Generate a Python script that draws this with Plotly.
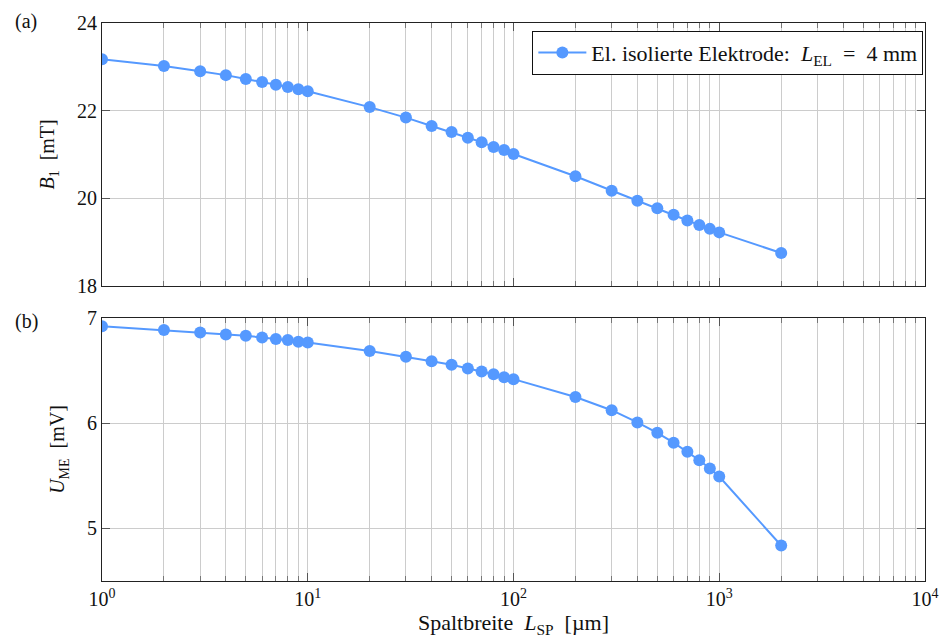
import plotly.graph_objects as go
from plotly.subplots import make_subplots

# ---- data ----
gap_um = [1, 2, 3, 4, 5, 6, 7, 8, 9, 10,
          20, 30, 40, 50, 60, 70, 80, 90, 100,
          200, 300, 400, 500, 600, 700, 800, 900, 1000, 2000]
b1_mT = [23.17, 23.02, 22.90, 22.81, 22.72, 22.655, 22.59, 22.54, 22.49, 22.44,
         22.08, 21.84, 21.65, 21.51, 21.38, 21.28, 21.17, 21.10, 21.01,
         20.50, 20.17, 19.94, 19.77, 19.62, 19.49, 19.39, 19.30, 19.22, 18.75]
u_me_mV = [6.92, 6.884, 6.861, 6.842, 6.83, 6.814, 6.80, 6.79, 6.774, 6.767,
           6.686, 6.632, 6.588, 6.554, 6.52, 6.49, 6.465, 6.437, 6.418,
           6.248, 6.123, 6.007, 5.908, 5.814, 5.729, 5.648, 5.569, 5.493, 4.837]
x_tickvals = [1, 10, 100, 1000, 10000]
x_ticktext = ["10<sup>0</sup>", "10<sup>1</sup>", "10<sup>2</sup>", "10<sup>3</sup>", "10<sup>4</sup>"]
series_name = "El. isolierte Elektrode:  <i>L</i><sub>EL</sub>  =  4 mm"

FONT = "Liberation Serif"
FS = 20
COLOR = "rgb(85,153,255)"
GRID = "#cccccc"
TXT = "#111"

minor_vals = [m * 10 ** d for d in range(4) for m in range(2, 10)]

fig = make_subplots(rows=2, cols=1, shared_xaxes=False)

fig.add_trace(go.Scatter(x=gap_um, y=b1_mT, mode="lines+markers", name=series_name,
                         line=dict(color=COLOR, width=2),
                         marker=dict(color=COLOR, size=12), showlegend=True),
              row=1, col=1)
fig.add_trace(go.Scatter(x=gap_um, y=u_me_mV, mode="lines+markers", name=series_name,
                         line=dict(color=COLOR, width=2),
                         marker=dict(color=COLOR, size=12), showlegend=False),
              row=2, col=1)

common_x = dict(type="log", range=[0, 4], tickmode="array", tickvals=x_tickvals,
                showline=True, linecolor="#222", linewidth=1.2, mirror="ticks",
                ticks="inside", ticklen=8, tickcolor="#555", tickwidth=1,
                showgrid=True, gridcolor=GRID, gridwidth=1, zeroline=False,
                minor=dict(tickmode="array", tickvals=minor_vals, ticks="inside",
                           ticklen=5, tickcolor="#777", showgrid=True,
                           gridcolor=GRID, gridwidth=1),
                tickfont=dict(family=FONT, size=FS, color=TXT))

fig.update_xaxes(**common_x, row=1, col=1, showticklabels=False, domain=[0, 1])
fig.update_xaxes(**common_x, row=2, col=1, ticktext=x_ticktext, domain=[0, 1],
                 title=dict(text="Spaltbreite  <i>L</i><sub>SP</sub>  [µm]",
                            font=dict(family=FONT, size=22, color=TXT), standoff=4))

common_y = dict(showline=True, linecolor="#222", linewidth=1.2, mirror="ticks",
                ticks="inside", ticklen=8, tickcolor="#555",
                showgrid=True, gridcolor=GRID, zeroline=False,
                tickfont=dict(family=FONT, size=FS, color=TXT))
fig.update_yaxes(**common_y, row=1, col=1, range=[18, 24], dtick=2, tick0=18,
                 domain=[0.529, 1.0],
                 title=dict(text="<i>B</i><sub>1</sub>  [mT]",
                            font=dict(family=FONT, size=FS, color=TXT), standoff=16))
fig.update_yaxes(**common_y, row=2, col=1, range=[4.5, 7], dtick=1, tick0=5,
                 domain=[0, 0.4715],
                 title=dict(text="<i>U</i><sub>ME</sub>  [mV]",
                            font=dict(family=FONT, size=FS, color=TXT), standoff=16))

fig.add_annotation(text="(a)", xref="paper", yref="paper", x=-0.108, y=1.002,
                   xanchor="left", yanchor="middle", showarrow=False,
                   font=dict(family=FONT, size=FS, color=TXT))
fig.add_annotation(text="(b)", xref="paper", yref="paper", x=-0.108, y=0.4657,
                   xanchor="left", yanchor="middle", showarrow=False,
                   font=dict(family=FONT, size=FS, color=TXT))

fig.update_layout(
    width=951, height=644,
    margin=dict(l=102, r=17, t=19, b=63),
    paper_bgcolor="white", plot_bgcolor="white",
    font=dict(family=FONT, size=FS, color=TXT),
    legend=dict(x=0.998, y=0.9863, xanchor="right", yanchor="top",
                bgcolor="white", bordercolor="#111", borderwidth=1,
                itemwidth=48, font=dict(family=FONT, size=22, color=TXT)),
)

fig.write_html("out.html", config={"displayModeBar": False},
               post_script="document.body.style.margin='0';document.body.style.overflow='hidden';")
